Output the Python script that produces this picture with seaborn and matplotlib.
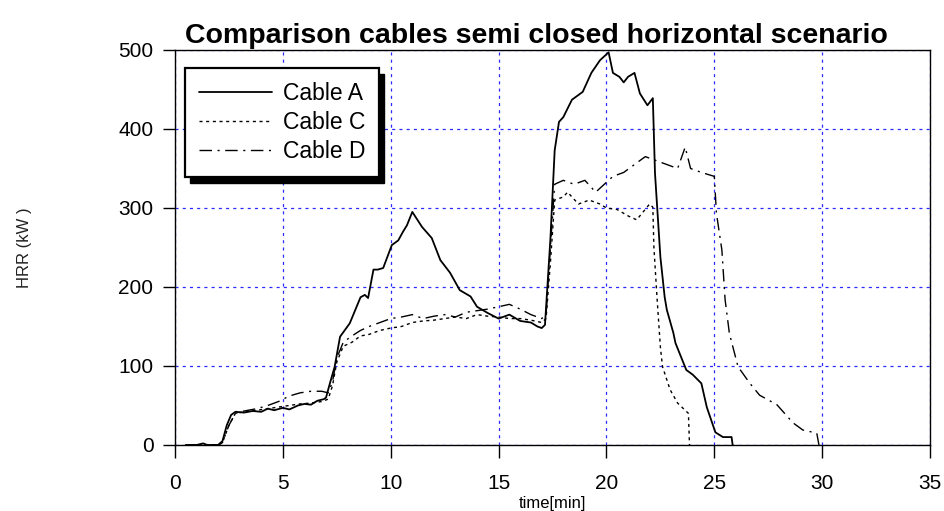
import matplotlib
matplotlib.use("Agg")
import matplotlib.pyplot as plt
from matplotlib.patches import Rectangle
import seaborn as sns
import pandas as pd

# Heat release rate measurements (time in minutes, HRR in kW)
time_a = [0.5, 1.0, 1.3, 1.5, 1.7, 2.0, 2.2, 2.4, 2.6, 2.8, 3.2, 3.6, 4.0, 4.3, 4.6,
          5.0, 5.3, 5.7, 6.0, 6.3, 6.6, 6.9, 7.0, 7.2, 7.4, 7.65, 8.1, 8.6, 8.8, 8.95,
          9.2, 9.4, 9.65, 10.05, 10.35, 10.57, 10.75, 11.0, 11.45, 11.9, 12.3, 12.75,
          13.2, 13.7, 14.0, 14.5, 15.0, 15.5, 16.0, 16.5, 16.8, 17.0, 17.15, 17.4,
          17.6, 17.8, 18.0, 18.4, 18.9, 19.3, 19.7, 20.1, 20.3, 20.6, 20.8, 21.0,
          21.3, 21.55, 21.9, 22.15, 22.25, 22.5, 22.7, 22.8, 23.1, 23.2, 23.7, 24.0,
          24.4, 24.65, 24.9, 25.05, 25.4, 25.8, 25.85]
hrr_a = [0, 0, 2, 0, 0, 0, 5, 25, 38, 42, 41, 43, 42, 46, 44,
         47, 45, 50, 52, 51, 56, 58, 60, 80, 99, 137, 154, 187, 190, 186,
         222, 222, 224, 253, 259, 270, 278, 295, 276, 262, 234, 218,
         196, 188, 175, 167, 160, 165, 157, 155, 150, 148, 152, 260,
         373, 409, 415, 437, 447, 471, 487, 497, 471, 466, 459, 466,
         471, 445, 430, 439, 344, 238, 187, 171, 142, 129, 95, 89,
         78, 48, 28, 16, 10, 10, 0]

time_c = [0.5, 1.0, 1.5, 2.0, 2.2, 2.5, 2.8, 3.2, 3.8, 4.3, 4.8, 5.3, 5.8, 6.3, 6.8,
          7.1, 7.3, 7.5, 7.8, 8.2, 8.6, 9.0, 9.5, 10.0, 10.5, 11.0, 11.5, 12.0, 12.5,
          13.0, 13.5, 14.0, 14.5, 15.0, 15.5, 16.0, 16.5, 17.0, 17.2, 17.4, 17.6,
          18.0, 18.2, 18.7, 19.2, 19.7, 20.0, 20.5, 21.0, 21.4, 21.7, 22.0, 22.15,
          22.2, 22.35, 22.5, 22.6, 22.95, 23.3, 23.8, 23.85]
hrr_c = [0, 0, 0, 0, 3, 25, 40, 42, 44, 46, 48, 50, 52, 53, 55,
         58, 75, 105, 125, 130, 138, 140, 145, 148, 150, 155, 157, 158, 160,
         162, 160, 165, 163, 162, 160, 160, 158, 155, 160, 230, 310,
         314, 320, 305, 310, 305, 300, 298, 290, 285, 295, 305, 301,
         250, 184, 124, 99, 70, 53, 40, 0]

time_d = [0.5, 1.0, 1.5, 2.0, 2.2, 2.5, 2.8, 3.2, 3.8, 4.3, 4.8, 5.3, 5.8, 6.3, 6.8,
          7.1, 7.3, 7.5, 7.8, 8.2, 8.6, 9.0, 9.5, 10.0, 10.5, 11.0, 11.5, 12.0, 12.5,
          13.0, 13.5, 14.0, 14.5, 15.0, 15.5, 16.0, 16.5, 17.0, 17.2, 17.4, 17.6,
          18.0, 18.5, 19.0, 19.5, 19.9, 20.3, 20.8, 21.3, 21.8, 22.3, 22.8, 23.3,
          23.65, 23.9, 24.4, 25.0, 25.1, 25.35, 25.5, 25.7, 26.1, 26.65, 27.1, 27.9,
          28.65, 29.1, 29.75, 29.85]
hrr_d = [0, 0, 0, 0, 3, 25, 40, 43, 46, 50, 55, 62, 66, 68, 68,
         66, 80, 110, 130, 138, 145, 150, 155, 160, 162, 165, 160, 163, 165,
         162, 168, 170, 172, 175, 178, 172, 165, 160, 165, 250, 330,
         335, 330, 335, 320, 330, 340, 345, 355, 365, 360, 355, 350,
         377, 350, 345, 340, 293, 247, 184, 141, 99, 78, 63, 51,
         28, 19, 15, 0]

cable_labels = ["Cable A", "Cable C", "Cable D"]
x_ticks = [0, 5, 10, 15, 20, 25, 30, 35]
y_ticks = [0, 100, 200, 300, 400, 500]

sns.set_theme(style="white")
plt.rcParams["font.family"] = ["Liberation Sans", "DejaVu Sans"]
plt.rcParams["text.color"] = "black"
plt.rcParams["lines.scale_dashes"] = False

fig = plt.figure(figsize=(9.44, 5.11), dpi=100)
ax = fig.add_axes([0.1854, 0.1292, 0.7998, 0.773])

series = [
    (time_a, hrr_a, "-", 1.3),
    (time_c, hrr_c, (0, (2.2, 2.6)), 1.0),
    (time_d, hrr_d, (0, (9, 4, 1.5, 4)), 1.0),
]
for (t, v, ls, lw), name in zip(series, cable_labels):
    df = pd.DataFrame({"time": t, "hrr": v})
    sns.lineplot(data=df, x="time", y="hrr", ax=ax, color="black",
                 linestyle=ls, linewidth=lw, label=name,
                 estimator=None, sort=False, zorder=3)

ax.set_xlim(0, 35)
ax.set_ylim(0, 500)
ax.set_xticks(x_ticks)
ax.set_yticks(y_ticks)
ax.tick_params(axis="both", which="major", direction="out", length=9,
               width=1, color="black", labelsize=15, labelcolor="black",
               bottom=True, left=True, top=False, right=False)
ax.tick_params(axis="y", pad=6.5)
ax.tick_params(axis="x", pad=12)
for s in ax.spines.values():
    s.set_visible(True)
    s.set_color("black")
    s.set_linewidth(1.0)

ax.set_axisbelow(True)
ax.grid(True, color="#2a2aff", linestyle=(0, (2.2, 3.0)), linewidth=0.9)

ax.set_title("Comparison cables semi closed horizontal scenario",
             fontsize=20.5, fontweight="bold", color="black", x=0.479, pad=5)
ax.set_xlabel("time[min]", fontsize=12, color="black")
ax.xaxis.set_label_coords(0.5, -0.128)
ax.set_ylabel("HRR (kW )", fontsize=12, color="#222222")
ax.yaxis.set_label_coords(-0.19, 0.5)

leg = ax.legend(loc="upper left", bbox_to_anchor=(0.013, 0.954),
                borderaxespad=0, frameon=True, fancybox=False,
                edgecolor="black", facecolor="white", framealpha=1,
                fontsize=16.5, handlelength=3.2, handletextpad=0.45,
                labelspacing=0.26, borderpad=0.62, labelcolor="black")
leg.get_frame().set_linewidth(1.6)
leg.set_zorder(6)

# solid black drop shadow behind the legend box
fig.canvas.draw()
bb = leg.get_frame().get_window_extent()
inv = ax.transAxes.inverted()
(x0, y0), (x1, y1) = inv.transform([(bb.x0 + 5, bb.y0 - 6), (bb.x1 + 5, bb.y1 - 6)])
ax.add_patch(Rectangle((x0, y0), x1 - x0, y1 - y0, transform=ax.transAxes,
                       facecolor="black", edgecolor="black", zorder=5.5,
                       clip_on=False))

fig.savefig("out.png", dpi=100)
